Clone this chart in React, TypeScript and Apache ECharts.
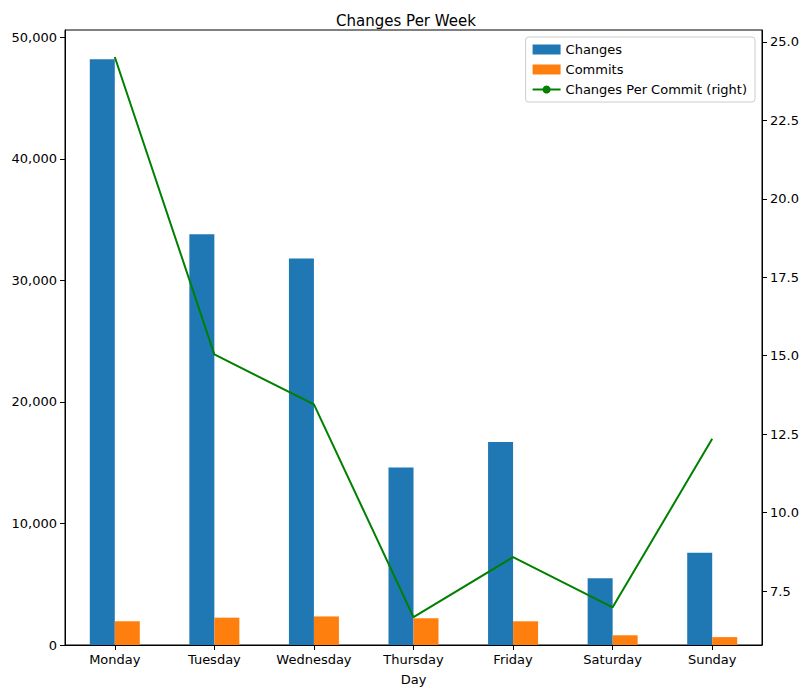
import React, { useEffect, useRef } from "react";
import * as echarts from "echarts";

const days = ["Monday", "Tuesday", "Wednesday", "Thursday", "Friday", "Saturday", "Sunday"];
const changes = [48200, 33800, 31800, 14600, 16700, 5500, 7600];
const commits = [1950, 2250, 2350, 2200, 1950, 800, 650];
const perCommit = [24.52, 15.04, 13.45, 6.67, 8.58, 6.98, 12.35];
const rightTicks = [7.5, 10.0, 12.5, 15.0, 17.5, 20.0, 22.5, 25.0];

export default function App() {
  const ref = useRef<HTMLDivElement>(null);
  useEffect(() => {
    const chart = echarts.init(ref.current!, null, { renderer: "svg" });
    const font = "DejaVu Sans";
    const axisCommon = {
      axisLine: { show: true, lineStyle: { color: "#000" } },
      axisTick: { show: true, length: 5, lineStyle: { color: "#000" } },
      axisLabel: { color: "#000", fontFamily: font, fontSize: 13 },
      splitLine: { show: false },
    };
    chart.setOption({
      animation: false,
      textStyle: { fontFamily: font },
      title: {
        text: "Changes Per Week", left: "center", top: 0,
        textStyle: { fontFamily: font, fontSize: 15, fontWeight: "normal", color: "#000" },
      },
      grid: { left: 57, right: 42, top: 22, bottom: 45, show: true, borderColor: "#000", borderWidth: 1 },
      legend: {
        orient: "vertical", right: 49, top: 29, itemWidth: 28, itemHeight: 10, itemGap: 7,
        borderColor: "#ccc", borderWidth: 1, borderRadius: 3, padding: [6, 8, 6, 6],
        backgroundColor: "#fff",
        textStyle: { fontFamily: font, fontSize: 13, color: "#000" },
        data: [
          { name: "Changes", icon: "rect" },
          { name: "Commits", icon: "rect" },
          { name: "Changes Per Commit (right)" },
        ],
      },
      xAxis: {
        type: "category", data: days, name: "Day", nameLocation: "middle", nameGap: 28,
        nameTextStyle: { fontFamily: font, fontSize: 13, color: "#000" },
        ...axisCommon,
        axisTick: { show: true, alignWithLabel: true, length: 5, lineStyle: { color: "#000" } },
      },
      yAxis: [
        { type: "value", min: 0, max: 50600, interval: 10000, ...axisCommon },
        {
          type: "value", min: 5.78, max: 25.38, position: "right", ...axisCommon,
          axisTick: { show: true, length: 5, customValues: rightTicks, lineStyle: { color: "#000" } },
          axisLabel: {
            color: "#000", fontFamily: font, fontSize: 13, customValues: rightTicks,
            formatter: (v: number) => v.toFixed(1),
          },
        },
      ],
      series: [
        { name: "Changes", type: "bar", data: changes, barWidth: 25, barGap: "0%", itemStyle: { color: "#1f77b4" } },
        { name: "Commits", type: "bar", data: commits, barWidth: 25, barGap: "0%", itemStyle: { color: "#ff7f0e" } },
        {
          name: "Changes Per Commit (right)", type: "line", yAxisIndex: 1, data: perCommit,
          symbol: "none", lineStyle: { color: "#008000", width: 2 }, itemStyle: { color: "#008000" },
        },
      ],
    });
    return () => chart.dispose();
  }, []);
  return <div ref={ref} style={{ width: 796, height: 683 }} />;
}
